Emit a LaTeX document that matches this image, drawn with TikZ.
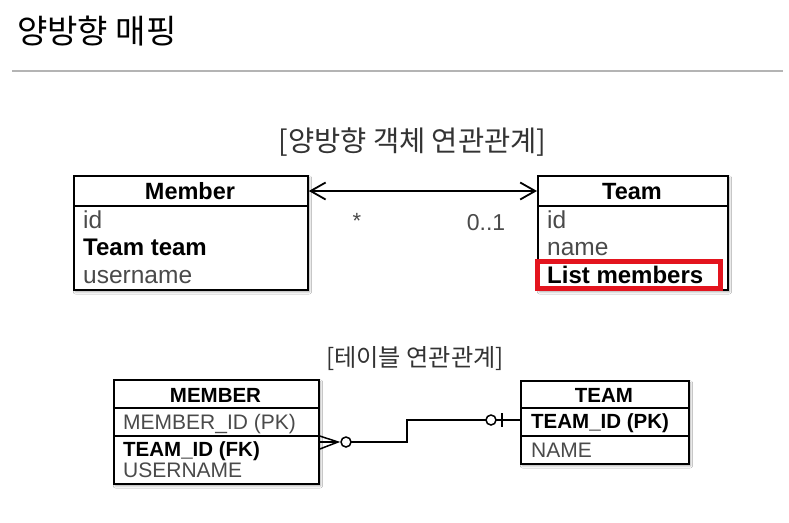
\documentclass[tikz,border=0pt]{standalone}
\usepackage{fontspec}
\setmainfont{Liberation Sans}
\newfontfamily\kr{Noto Sans CJK KR}
\usetikzlibrary{arrows.meta,shadows.blur}
\definecolor{txtgray}{HTML}{4A4A4A}
\definecolor{subgray}{HTML}{333333}
\definecolor{rulegray}{HTML}{B4B4B4}
\definecolor{hired}{HTML}{E3141E}
\tikzset{
  tbl/.style={draw=black, line width=1.8pt, fill=white, anchor=north west, inner sep=0pt,
     blur shadow={shadow xshift=1.5pt, shadow yshift=-2pt, shadow blur steps=6, shadow opacity=35}},
  hdr/.style={font=\fontsize{23.5}{23.5}\selectfont\bfseries, anchor=base, inner sep=0pt},
  fld/.style={font=\fontsize{24.5}{24.5}\selectfont, text=txtgray, anchor=base west, inner sep=0pt},
  fldb/.style={font=\fontsize{24}{24}\selectfont\bfseries, text=black, anchor=base west, inner sep=0pt},
  ehdr/.style={font=\fontsize{20.5}{20.5}\selectfont\bfseries, anchor=base, inner sep=0pt},
  efld/.style={font=\fontsize{21}{21}\selectfont, text=txtgray, anchor=base west, inner sep=0pt},
  efldb/.style={font=\fontsize{20.5}{20.5}\selectfont\bfseries, text=black, anchor=base west, inner sep=0pt},
  conn/.style={line width=1.5pt},
}
\begin{document}
\begin{tikzpicture}[x=1pt,y=-1pt]
\useasboundingbox[fill=white] (0,0) rectangle (789,522);
% title
\node[anchor=base west, inner sep=0pt, font=\kr\fontsize{33}{33}\selectfont] (title) at (17,43) {양방향 매핑};
\draw[rulegray, line width=2.5pt] (12,71) -- (783,71);
% object subtitle
\node[anchor=base, inner sep=0pt, font=\kr\fontsize{28.5}{28.5}\selectfont, text=subgray] (objsub) at (412.5,151) {[양방향 객체 연관관계]};
% Member class
\node[tbl, minimum width=234pt, minimum height=114pt] (member) at (73,175) {};
\draw[line width=1.8pt] (73,206) -- (307,206);
\node[hdr] (memberh) at (190,199) {Member};
\node[fld] (mid) at (83,228) {id};
\node[fldb] (mteam) at (83,255) {Team team};
\node[fld] (muser) at (83,283) {username};
% Team class
\node[tbl, minimum width=190pt, minimum height=114pt] (team) at (537,175) {};
\draw[line width=1.8pt] (537,206) -- (727,206);
\node[hdr] (teamh) at (632,199) {Team};
\node[fld] (tid) at (547,228) {id};
\node[fld] (tname) at (547,255) {name};
\node[fldb] (tlist) at (547,283) {List members};
\draw[hired, line width=4.5pt] (537.5,261.5) rectangle (720.5,288.5);
% association
\draw[line width=1.8pt, {Straight Barb[length=15pt,width=17pt,line width=1.8pt]}-{Straight Barb[length=15pt,width=17pt,line width=1.8pt]}]
  (member.east |- 0,191) -- (team.west |- 0,191);
\node[anchor=base, inner sep=0pt, font=\fontsize{22}{22}\selectfont, text=txtgray] (mstar) at (357,228) {*};
\node[anchor=base, inner sep=0pt, font=\fontsize{23}{23}\selectfont, text=txtgray] (mult) at (486,230) {0..1};
% table subtitle
\node[anchor=base, inner sep=0pt, font=\kr\fontsize{24.2}{24.2}\selectfont, text=subgray] (tblsub) at (415,366) {[테이블 연관관계]};
% MEMBER table
\node[tbl, minimum width=205pt, minimum height=104pt] (mtbl) at (113,379) {};
\draw[line width=1.5pt] (113,408) -- (318,408);
\draw[line width=1.5pt] (113,436) -- (318,436);
\node[ehdr] (mtblh) at (215.5,402) {MEMBER};
\node[efld] (mpk) at (123,429) {MEMBER\_ID (PK)};
\node[efldb] (mfk) at (123,456) {TEAM\_ID (FK)};
\node[efld] (muname) at (123,477) {USERNAME};
% TEAM table
\node[tbl, minimum width=168pt, minimum height=83pt] (ttbl) at (520,380) {};
\draw[line width=1.5pt] (520,408) -- (688,408);
\draw[line width=1.5pt] (520,436) -- (688,436);
\node[ehdr] (ttblh) at (604,402) {TEAM};
\node[efldb] (tpk) at (531,428) {TEAM\_ID (PK)};
\node[efld] (tnm) at (531,457) {NAME};
% relation connector
\coordinate (elbow1) at (407,442);
\coordinate (elbow2) at (407,420);
\draw[conn] (mtbl.east |- 0,436) -- (338,442) -- (mtbl.east |- 0,449);
\draw[conn] (mtbl.east |- 0,442) -- (338,442);
\draw[conn] (351,442) -- (elbow1) -- (elbow2) -- (486,420);
\draw[conn] (496,420) -- (ttbl.west |- 0,420);
\draw[conn] (502,413) -- (502,427);
\draw[conn, fill=white] (346,442) circle (5pt);
\draw[conn, fill=white] (491,420) circle (5pt);
\end{tikzpicture}
\end{document}
